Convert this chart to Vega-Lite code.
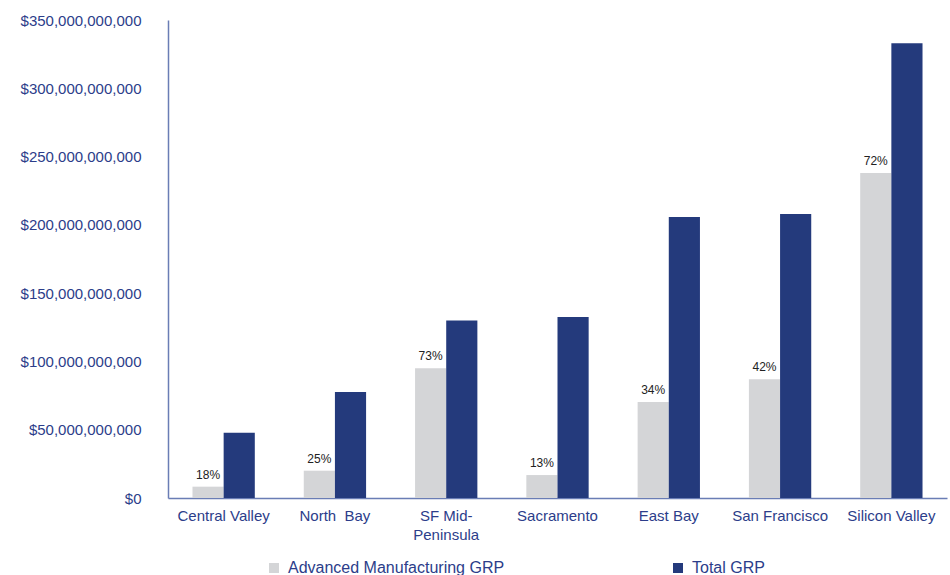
{
  "$schema": "https://vega.github.io/schema/vega-lite/v6.json",
  "width": 779,
  "height": 478,
  "autosize": {"type": "none"},
  "padding": {"left": 168, "top": 20, "right": 3, "bottom": 77},
  "background": "white",
  "config": {
    "view": {"stroke": null},
    "font": "Liberation Sans"
  },
  "data": {
    "values": [
      {"region": "Central Valley", "series": "Advanced Manufacturing GRP", "value": 8300000000, "pct": "18%"},
      {"region": "Central Valley", "series": "Total GRP", "value": 47800000000, "pct": ""},
      {"region": "North\u00a0 Bay", "series": "Advanced Manufacturing GRP", "value": 20000000000, "pct": "25%"},
      {"region": "North\u00a0 Bay", "series": "Total GRP", "value": 77600000000, "pct": ""},
      {"region": "SF Mid-Peninsula", "series": "Advanced Manufacturing GRP", "value": 95000000000, "pct": "73%"},
      {"region": "SF Mid-Peninsula", "series": "Total GRP", "value": 130000000000, "pct": ""},
      {"region": "Sacramento", "series": "Advanced Manufacturing GRP", "value": 16800000000, "pct": "13%"},
      {"region": "Sacramento", "series": "Total GRP", "value": 132500000000, "pct": ""},
      {"region": "East Bay", "series": "Advanced Manufacturing GRP", "value": 70300000000, "pct": "34%"},
      {"region": "East Bay", "series": "Total GRP", "value": 205700000000, "pct": ""},
      {"region": "San Francisco", "series": "Advanced Manufacturing GRP", "value": 87000000000, "pct": "42%"},
      {"region": "San Francisco", "series": "Total GRP", "value": 208000000000, "pct": ""},
      {"region": "Silicon Valley", "series": "Advanced Manufacturing GRP", "value": 238000000000, "pct": "72%"},
      {"region": "Silicon Valley", "series": "Total GRP", "value": 333000000000, "pct": ""}
    ]
  },
  "encoding": {
    "x": {
      "field": "region",
      "type": "nominal",
      "sort": null,
      "scale": {"paddingInner": 0.44, "paddingOuter": 0.22},
      "axis": {
        "title": null,
        "labelAngle": 0,
        "ticks": false,
        "labelPadding": 10,
        "labelFontSize": 15,
        "labelColor": "#2c3d8a",
        "domainColor": "#6a7db5",
        "domainWidth": 1.5,
        "labelExpr": "datum.label == 'SF Mid-Peninsula' ? ['SF Mid-', 'Peninsula'] : datum.label",
        "labelLineHeight": 19
      }
    },
    "xOffset": {"field": "series", "type": "nominal", "sort": ["Advanced Manufacturing GRP", "Total GRP"]},
    "y": {
      "field": "value",
      "type": "quantitative",
      "scale": {"domain": [0, 350000000000], "nice": false},
      "axis": {
        "title": null,
        "grid": false,
        "ticks": false,
        "values": [0, 50000000000, 100000000000, 150000000000, 200000000000, 250000000000, 300000000000, 350000000000],
        "format": "$,.0f",
        "labelPadding": 27,
        "labelFontSize": 15,
        "labelColor": "#2c3d8a",
        "domainColor": "#6a7db5",
        "domainWidth": 1.5
      }
    }
  },
  "layer": [
    {
      "mark": {"type": "bar"},
      "encoding": {
        "color": {
          "field": "series",
          "type": "nominal",
          "sort": ["Advanced Manufacturing GRP", "Total GRP"],
          "scale": {"domain": ["Advanced Manufacturing GRP", "Total GRP"], "range": ["#d4d5d7", "#243a7c"]},
          "legend": {
            "title": null,
            "orient": "none",
            "direction": "horizontal",
            "legendX": 98,
            "legendY": 540,
            "symbolType": "square",
            "symbolSize": 100,
            "symbolStrokeWidth": 0,
            "labelFontSize": 16,
            "labelLimit": 0,
            "labelColor": "#2c3d8a",
            "labelOffset": 6,
            "columnPadding": 165
          }
        }
      }
    },
    {
      "mark": {"type": "text", "baseline": "bottom", "dy": -5, "fontSize": 12, "color": "#222222"},
      "encoding": {
        "text": {"field": "pct"}
      }
    }
  ]
}
